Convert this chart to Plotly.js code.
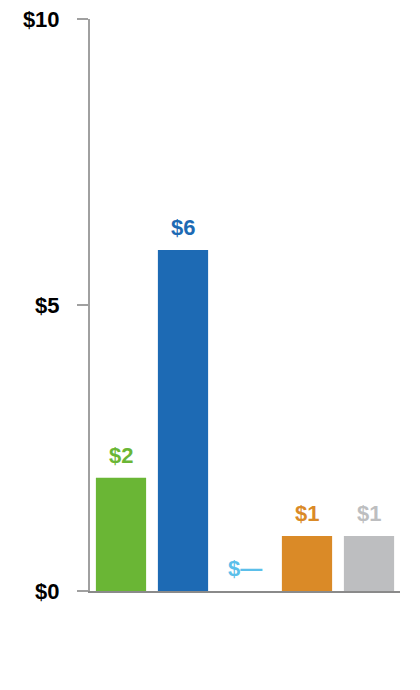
<!DOCTYPE html>
<html>
<head>
<meta charset="utf-8">
<script src="https://cdn.plot.ly/plotly-3.0.1.min.js"></script>
<style>html,body{margin:0;padding:0;background:#fff}#chart{width:420px;height:690px}</style>
</head>
<body>
<div id="chart"></div>
<script>
const categories = ["A", "B", "C", "D", "E"];
const values = [1.98, 5.96, 0, 0.96, 0.96];
const labels = ["$2", "$6", "$\u2014", "$1", "$1"];
const colors = ["#6AB635", "#1D6AB4", "#5BBFEA", "#DA8A27", "#BDBEC0"];
const yTickVals = [0, 5, 10];
const yTickText = ["$0", "$5", "$10"];

const font = "'Liberation Sans Narrow', 'Arial Narrow', 'Liberation Sans', Arial, sans-serif";

const trace = {
  type: "bar",
  x: categories,
  y: values,
  marker: {color: colors},
  hoverinfo: "none"
};

const annotations = categories.map((c, i) => ({
  x: c, y: values[i], xref: "x", yref: "y",
  text: "<b>" + labels[i] + "</b>",
  showarrow: false, yanchor: "bottom", yshift: 8,
  font: {family: font, size: 22, color: colors[i]}
}));

const layout = {
  width: 420, height: 690,
  margin: {l: 90, r: 20, t: 19, b: 99},
  paper_bgcolor: "#fff", plot_bgcolor: "#fff",
  bargap: 0.19,
  showlegend: false,
  xaxis: {
    showticklabels: false, ticks: "", showgrid: false, zeroline: false,
    showline: true, linecolor: "#8A8A8A", linewidth: 2, fixedrange: true
  },
  yaxis: {
    range: [0, 10], tickvals: yTickVals, ticktext: yTickText,
    ticks: "outside", ticklen: 11, tickwidth: 2, tickcolor: "#A0A0A0",
    showline: true, linecolor: "#A0A0A0", linewidth: 2,
    showgrid: false, zeroline: false, ticklabelstandoff: 13,
    tickfont: {family: font, size: 22, color: "#000", weight: "bold"}
  },
  annotations: annotations
};

Plotly.newPlot("chart", [trace], layout, {staticPlot: true});
</script>
</body>
</html>
